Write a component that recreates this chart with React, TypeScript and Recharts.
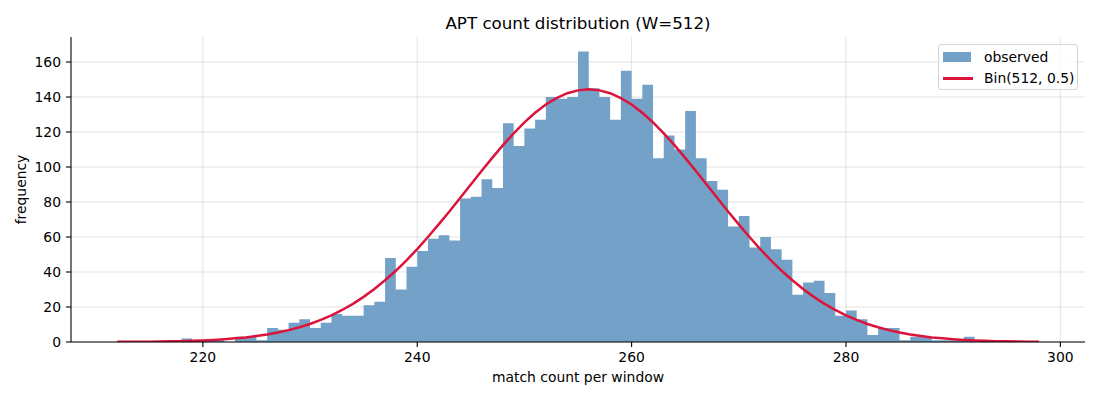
import React from "react";
import {
  ComposedChart,
  Area,
  Line,
  XAxis,
  YAxis,
  CartesianGrid,
  Legend,
} from "recharts";

// histogram bins are 1 wide, first bin starts at 212
const FIRST_BIN = 212;

// observed counts for bins 212..297
const binCounts = [
  0, 0, 0, 0, 0, 0, 2, 1, 1, 1, 0, 3, 3, 1, 8, 7, 11, 13, 8, 11, 16, 15, 15,
  21, 23, 48, 30, 43, 52, 59, 61, 58, 82, 83, 93, 88, 125, 112, 122, 127, 140,
  139, 140, 166, 145, 140, 127, 155, 139, 147, 105, 118, 110, 132, 105, 92, 87,
  66, 72, 54, 60, 53, 47, 27, 34, 35, 28, 15, 18, 13, 4, 8, 8, 1, 3, 3, 1, 1, 1,
  3, 0, 0, 0, 0, 0, 0,
];

// expected curve, x = 212..298
const binomialFit = [
  0.1, 0.1, 0.1, 0.2, 0.3, 0.4, 0.5, 0.7, 0.9, 1.2, 1.6, 2.1, 2.6, 3.4, 4.3,
  5.4, 6.8, 8.4, 10.3, 12.6, 15.2, 18.3, 21.8, 25.8, 30.3, 35.3, 40.7, 46.7,
  53.1, 60.0, 67.2, 74.6, 82.3, 90.0, 97.7, 105.2, 112.5, 119.2, 125.5, 131.0,
  135.7, 139.4, 142.2, 143.8, 144.4, 143.8, 142.2, 139.4, 135.7, 131.0, 125.5,
  119.2, 112.5, 105.2, 97.7, 90.0, 82.3, 74.6, 67.2, 60.0, 53.1, 46.7, 40.7,
  35.3, 30.3, 25.8, 21.8, 18.3, 15.2, 12.6, 10.3, 8.4, 6.8, 5.4, 4.3, 3.4, 2.6,
  2.1, 1.6, 1.2, 0.9, 0.7, 0.5, 0.4, 0.3, 0.2, 0.1,
];

const xTicks = [220, 240, 260, 280, 300];
const yTicks = [0, 20, 40, 60, 80, 100, 120, 140, 160];

const TITLE = "APT count distribution (W=512)";
const X_LABEL = "match count per window";
const Y_LABEL = "frequency";
const OBSERVED_NAME = "observed";
const FIT_NAME = "Bin(512, 0.5)";

const BAR_COLOR = "#74a1c7";
const FIT_COLOR = "#dc143c";
const FONT = "'DejaVu Sans', sans-serif";

// last row is the closing edge of the final bin
const data = binomialFit.map((fit, i) => ({
  x: FIRST_BIN + i,
  observed: binCounts[i] ?? 0,
  fit,
}));

const tickStyle = { fill: "#000", fontSize: 13.9, fontFamily: FONT };

const XLabel = ({ viewBox }: any) => (
  <text
    x={viewBox.x + viewBox.width / 2}
    y={viewBox.y + 35}
    textAnchor="middle"
    dominantBaseline="central"
    fontSize={13.9}
    fontFamily={FONT}
    fill="#000"
  >
    {X_LABEL}
  </text>
);

const YLabel = ({ viewBox }: any) => {
  const cx = viewBox.x + 10;
  const cy = viewBox.y + viewBox.height / 2;
  return (
    <text
      x={cx}
      y={cy}
      transform={`rotate(-90 ${cx} ${cy})`}
      textAnchor="middle"
      dominantBaseline="central"
      fontSize={13.9}
      fontFamily={FONT}
      fill="#000"
    >
      {Y_LABEL}
    </text>
  );
};

const LegendBox = () => (
  <div
    style={{
      position: "relative",
      width: 140,
      height: 46,
      boxSizing: "border-box",
      border: "1px solid #d6d6d6",
      borderRadius: 3,
      background: "rgba(255,255,255,0.8)",
      fontFamily: FONT,
      fontSize: 13.9,
      color: "#000",
    }}
  >
    <div
      style={{
        position: "absolute",
        left: 4,
        top: 7,
        width: 28,
        height: 10,
        background: BAR_COLOR,
      }}
    />
    <div style={{ position: "absolute", left: 45, top: 2, lineHeight: "20px" }}>
      {OBSERVED_NAME}
    </div>
    <div
      style={{
        position: "absolute",
        left: 4,
        top: 32,
        width: 30,
        height: 2.5,
        background: FIT_COLOR,
      }}
    />
    <div style={{ position: "absolute", left: 45, top: 23, lineHeight: "20px" }}>
      {FIT_NAME}
    </div>
  </div>
);

const App: React.FC = () => {
  return (
    <div
      style={{
        position: "absolute",
        left: 0,
        top: 0,
        width: 1100,
        height: 400,
        background: "#fff",
        fontFamily: FONT,
      }}
    >
      <div
        style={{
          position: "absolute",
          left: 0,
          width: 1156,
          top: 13,
          lineHeight: "20px",
          textAlign: "center",
          fontSize: 16.7,
          color: "#000",
        }}
      >
        {TITLE}
      </div>
      <ComposedChart
        width={1100}
        height={400}
        data={data}
        margin={{ top: 37, right: 15, bottom: 13, left: 11 }}
      >
        <XAxis
          dataKey="x"
          type="number"
          domain={[207.7, 302.3]}
          ticks={xTicks}
          allowDataOverflow
          height={45}
          tickSize={5}
          tickMargin={5}
          tick={tickStyle}
          axisLine={{ stroke: "#000", strokeWidth: 1.1 }}
          tickLine={{ stroke: "#000", strokeWidth: 1.1 }}
          label={<XLabel />}
        />
        <YAxis
          type="number"
          domain={[0, 174.3]}
          ticks={yTicks}
          allowDataOverflow
          width={60}
          tickSize={5}
          tickMargin={5}
          tick={tickStyle}
          axisLine={{ stroke: "#000", strokeWidth: 1.1 }}
          tickLine={{ stroke: "#000", strokeWidth: 1.1 }}
          label={<YLabel />}
        />
        <Area
          type="stepAfter"
          dataKey="observed"
          name={OBSERVED_NAME}
          stroke="none"
          strokeWidth={0}
          fill={BAR_COLOR}
          fillOpacity={1}
          dot={false}
          activeDot={false}
          isAnimationActive={false}
        />
        <CartesianGrid
          stroke="#b0b0b0"
          strokeOpacity={0.35}
          strokeWidth={1}
          horizontalValues={yTicks}
          verticalValues={xTicks}
        />
        <Line
          type="linear"
          dataKey="fit"
          name={FIT_NAME}
          stroke={FIT_COLOR}
          strokeWidth={2.5}
          dot={false}
          activeDot={false}
          isAnimationActive={false}
        />
        <Legend
          layout="horizontal"
          verticalAlign="middle"
          align="center"
          wrapperStyle={{ left: 938, top: 44, width: 140, height: 46 }}
          content={() => <LegendBox />}
        />
      </ComposedChart>
    </div>
  );
};

export default App;
